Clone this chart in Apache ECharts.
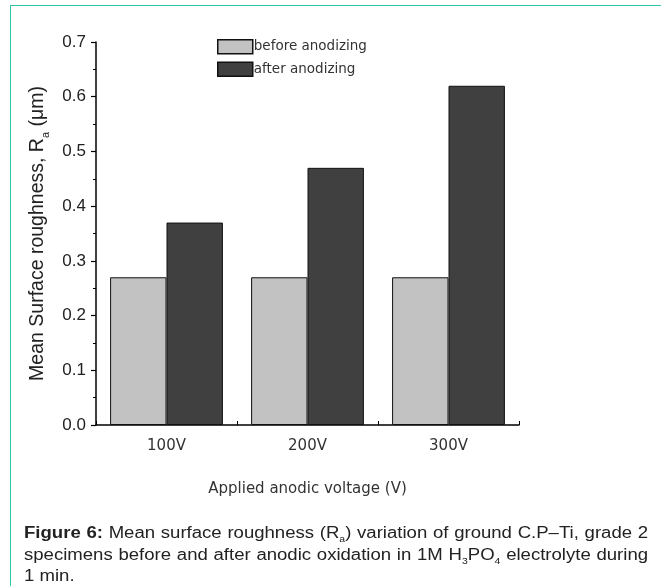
<!DOCTYPE html>
<html>
<head>
<meta charset="utf-8">
<script src="https://cdn.jsdelivr.net/npm/echarts@6/dist/echarts.min.js"></script>
<style>
  html, body { margin: 0; padding: 0; background: #fff; }
  #frame {
    position: absolute; left: 10px; top: 5px; width: 660px; height: 590px;
    border-left: 1.5px solid #2ec4a8; border-top: 1.5px solid #2ec4a8;
  }
  #chart { position: absolute; left: 0; top: 0; width: 661px; height: 586px; }
  #caption {
    position: absolute; left: 24px; top: 522px; width: 538px;
    transform: scaleX(1.16); transform-origin: left top;
    font-family: "Liberation Sans", Arial, sans-serif; font-size: 16px;
    line-height: 21.5px; color: #222;
  }
  #caption .j { text-align: justify; text-align-last: justify; white-space: nowrap; }
  #caption sub { font-size: 9px; line-height: 0; vertical-align: -4px; }
</style>
</head>
<body>
<div id="frame"></div>
<div id="chart"></div>
<div id="caption">
  <div class="j"><b>Figure 6:</b> Mean surface roughness (R<sub>a</sub>) variation of ground C.P&ndash;Ti, grade 2</div>
  <div class="j">specimens before and after anodic oxidation in 1M H<sub>3</sub>PO<sub>4</sub> electrolyte during</div>
  <div>1 min.</div>
</div>
<script>
  // 数据
  var voltages = ['100V', '200V', '300V']
  var beforeAnodizing = [0.27, 0.27, 0.27]
  var afterAnodizing = [0.37, 0.47, 0.62]
  var seriesNames = ['before anodizing', 'after anodizing']

  var chart = echarts.init(document.getElementById('chart'))

  chart.setOption({
    animation: false,
    grid: { left: 96, top: 42, right: 142, bottom: 161 },
    legend: {
      orient: 'vertical',
      left: 212,
      top: 34,
      itemWidth: 35,
      itemHeight: 14,
      itemGap: 7,
      icon: 'rect',
      data: seriesNames,
      itemStyle: { borderColor: '#111', borderWidth: 1.5 },
      textStyle: { fontFamily: 'DejaVu Sans', fontSize: 13.5, color: '#333', padding: [0, 0, 0, -4] }
    },
    xAxis: [{
      type: 'category',
      data: voltages,
      name: 'Applied anodic voltage (V)',
      nameLocation: 'middle',
      nameGap: 57,
      nameTextStyle: { fontFamily: 'DejaVu Sans', fontSize: 15, color: '#333' },
      axisLine: { lineStyle: { color: '#000', width: 1.5 } },
      axisTick: { alignWithLabel: true, length: 7, lineStyle: { color: '#000', width: 1.2 } },
      axisLabel: { fontFamily: 'DejaVu Sans', fontSize: 15, color: '#333', margin: 14 }
    }, {
      type: 'value',
      position: 'bottom',
      min: 0,
      max: 3,
      interval: 1,
      axisLine: { show: false },
      axisTick: { show: true, inside: true, length: 4, lineStyle: { color: '#000', width: 1 } },
      axisLabel: { show: false },
      splitLine: { show: false }
    }],
    yAxis: {
      type: 'value',
      min: 0,
      max: 0.7,
      interval: 0.1,
      name: 'Mean Surface roughness, R{sub|a} (μm)',
      nameLocation: 'middle',
      nameGap: 40,
      nameTextStyle: {
        fontFamily: 'Liberation Sans', fontSize: 19.5, color: '#222',
        rich: { sub: { fontFamily: 'Liberation Sans', fontSize: 11, color: '#222', verticalAlign: 'bottom', padding: [0, 0, -4, 0] } }
      },
      axisLine: { show: true, lineStyle: { color: '#000', width: 1.5 } },
      axisTick: { show: true, length: 5, lineStyle: { color: '#000', width: 1.2 } },
      minorTick: { show: true, splitNumber: 2, length: 3, lineStyle: { color: '#000', width: 1 } },
      splitLine: { show: false },
      axisLabel: {
        fontFamily: 'Liberation Sans', fontSize: 17, color: '#222', margin: 10,
        formatter: function (v) { return v.toFixed(1) }
      }
    },
    series: [{
      name: seriesNames[0],
      type: 'bar',
      data: beforeAnodizing,
      barGap: '0%',
      barCategoryGap: '20%',
      itemStyle: { color: '#c2c2c2', borderColor: '#111', borderWidth: 1 }
    }, {
      name: seriesNames[1],
      type: 'bar',
      data: afterAnodizing,
      barGap: '0%',
      barCategoryGap: '20%',
      itemStyle: { color: '#404040', borderColor: '#111', borderWidth: 1 }
    }]
  })
</script>
</body>
</html>
